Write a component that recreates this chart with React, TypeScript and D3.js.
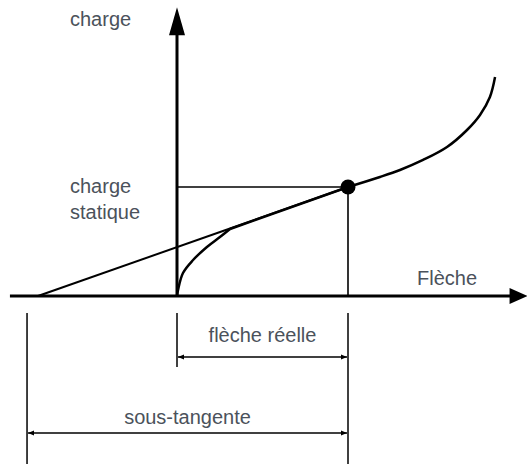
import React from "react";
import * as d3 from "d3";

// Diagram units: flèche réelle = 10 (x), charge statique = 10 (y)
const curveLeft: [number, number][] = [
  [0, 0], [0.06, 0.55], [0.35, 2.11], [0.94, 3.3], [1.75, 4.5], [2.51, 5.41], [3.1, 6.15],
];
const curveRight: [number, number][] = [
  [10, 10], [11.87, 10.92], [13.04, 11.56], [14.39, 12.48], [15.79, 13.67], [16.96, 15.23], [17.72, 16.61], [18.3, 18.26], [18.6, 20.09],
];
const tangentStart: [number, number] = [-8.13, 0];
const loadPoint: [number, number] = [10, 10];
const xAxisExtent = [-9.77, 20.5];
const yAxisExtent = [0, 26.5];
const dimTicksX = [-8.77, 0, 10];
const labels = {
  yAxis: "charge",
  xAxis: "Flèche",
  static1: "charge",
  static2: "statique",
  real: "flèche réelle",
  sub: "sous-tangente",
};

const W = 527, H = 464;
const x = d3.scaleLinear().domain([0, 10]).range([177, 348]);
const y = d3.scaleLinear().domain([0, 10]).range([296, 187]);

export default function App() {
  const line = d3.line<[number, number]>().x(d => x(d[0])).y(d => y(d[1])).curve(d3.curveCatmullRom.alpha(0.5));
  const straight = d3.line<[number, number]>().x(d => x(d[0])).y(d => y(d[1]));
  const textColor = "#4b525b";
  const font = "Arial, 'Liberation Sans', sans-serif";
  const x0 = x(0), y0 = y(0);
  const xEnd = x(xAxisExtent[1]);
  const yTop = y(yAxisExtent[1]);
  return (
    <svg width={W} height={H} style={{ position: "absolute", left: 0, top: 0 }}>
      <defs>
        <marker id="dimA" viewBox="0 0 10 10" refX="10" refY="5" markerWidth="6" markerHeight="6" orient="auto-start-reverse" markerUnits="userSpaceOnUse">
          <path d="M0,1 L10,5 L0,9 Z" fill="#000" />
        </marker>
      </defs>
      {/* axes */}
      <line x1={x(xAxisExtent[0])} y1={y0} x2={xEnd - 16} y2={y0} stroke="#000" strokeWidth={3} />
      <path d={`M${xEnd},${y0} L${xEnd - 18},${y0 - 8} L${xEnd - 18},${y0 + 8} Z`} fill="#000" />
      <line x1={x0} y1={y0} x2={x0} y2={yTop + 24} stroke="#000" strokeWidth={3} />
      <path d={`M${x0},${yTop} L${x0 - 8},${yTop + 28} L${x0 + 8},${yTop + 28} Z`} fill="#000" />
      {/* tangent */}
      <path d={straight([tangentStart, loadPoint]) || ""} stroke="#000" strokeWidth={2} fill="none" />
      {/* helper lines */}
      <line x1={x0} y1={y(loadPoint[1])} x2={x(loadPoint[0])} y2={y(loadPoint[1])} stroke="#000" strokeWidth={1.6} />
      <line x1={x(loadPoint[0])} y1={y(loadPoint[1])} x2={x(loadPoint[0])} y2={y0} stroke="#000" strokeWidth={1.6} />
      {/* curve */}
      <path d={line(curveLeft) || ""} stroke="#000" strokeWidth={2.5} fill="none" />
      <path d={straight([curveLeft[curveLeft.length - 1], loadPoint]) || ""} stroke="#000" strokeWidth={2.5} fill="none" />
      <path d={line(curveRight) || ""} stroke="#000" strokeWidth={2.5} fill="none" />
      <circle cx={x(loadPoint[0])} cy={y(loadPoint[1])} r={7.5} fill="#000" />
      {/* dimension ticks */}
      <line x1={x(dimTicksX[0])} y1={313} x2={x(dimTicksX[0])} y2={H} stroke="#000" strokeWidth={1.5} />
      <line x1={x(dimTicksX[1])} y1={313} x2={x(dimTicksX[1])} y2={367} stroke="#000" strokeWidth={1.5} />
      <line x1={x(dimTicksX[2])} y1={313} x2={x(dimTicksX[2])} y2={H} stroke="#000" strokeWidth={1.5} />
      <line x1={x(dimTicksX[1]) + 1} y1={357} x2={x(dimTicksX[2]) - 1} y2={357} stroke="#000" strokeWidth={1.3} markerStart="url(#dimA)" markerEnd="url(#dimA)" />
      <line x1={x(dimTicksX[0]) + 1} y1={433} x2={x(dimTicksX[2]) - 1} y2={433} stroke="#000" strokeWidth={1.3} markerStart="url(#dimA)" markerEnd="url(#dimA)" />
      {/* texts */}
      <g fill={textColor} fontFamily={font} fontSize={20}>
        <text x={70} y={26}>{labels.yAxis}</text>
        <text x={70} y={193}>{labels.static1}</text>
        <text x={70} y={219}>{labels.static2}</text>
        <text x={417} y={285}>{labels.xAxis}</text>
        <text x={(x(dimTicksX[1]) + x(dimTicksX[2])) / 2} y={342} textAnchor="middle">{labels.real}</text>
        <text x={(x(dimTicksX[0]) + x(dimTicksX[2])) / 2} y={424} textAnchor="middle">{labels.sub}</text>
      </g>
    </svg>
  );
}
